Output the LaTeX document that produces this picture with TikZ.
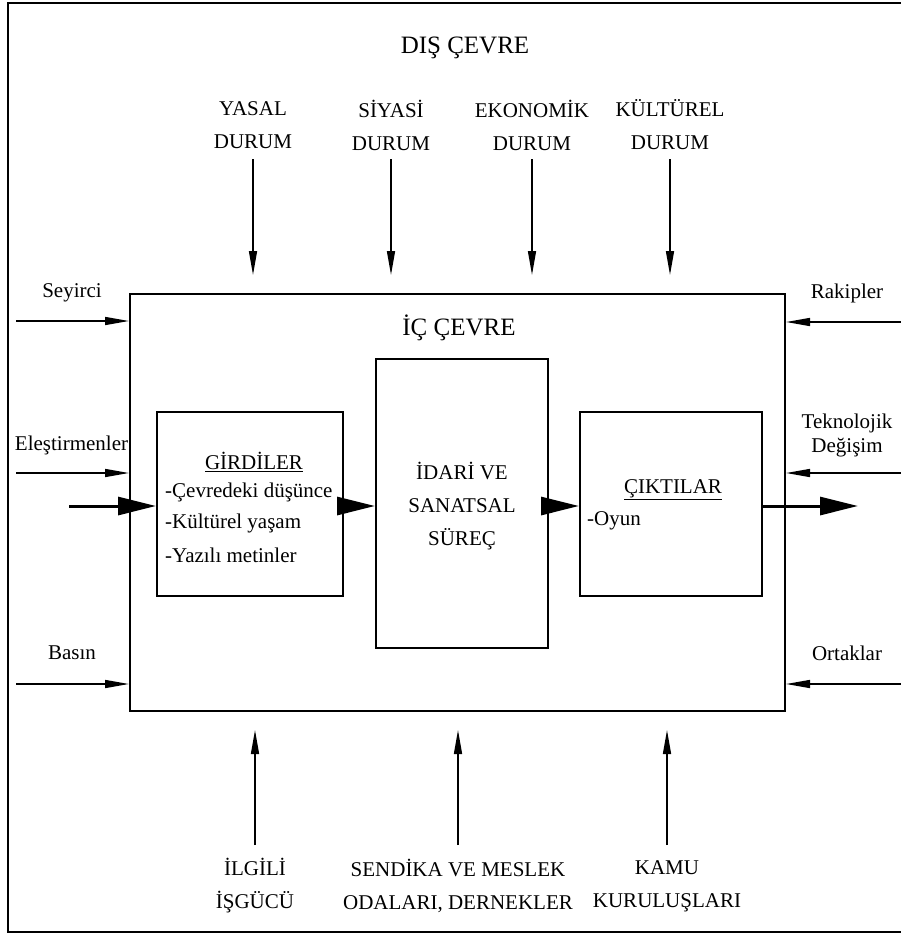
\documentclass[tikz,border=0pt]{standalone}
\usepackage{fontspec}
\setmainfont{Liberation Serif}
\usetikzlibrary{arrows.meta}
\begin{document}
\begin{tikzpicture}[x=1pt,y=-1pt,
  lbl/.style={font=\fontsize{21}{33}\selectfont, align=center, inner sep=0pt},
  slbl/.style={font=\fontsize{21}{24}\selectfont, align=center, inner sep=0pt},
  ttl/.style={font=\fontsize{25}{30}\selectfont, inner sep=0pt},
  box/.style={draw, line width=2pt, inner sep=0pt},
  thin/.style={line width=1.5pt, -{Triangle[length=24pt,width=8pt]}},
  thick/.style={line width=3pt, -{Triangle[length=38pt,width=18pt]}},
  frame/.style={line width=1.5pt}]
\useasboundingbox (0,0) rectangle (901,935);
% outer frame
\draw[frame] (901,3) -- (8,3) -- (8,932) -- (901,932);
% titles
\node[ttl] (dis) at (465,48) {DIŞ ÇEVRE};
% top labels
\node[lbl] (yasal) at (253,125) {YASAL\\DURUM};
\node[lbl] (siyasi) at (391,125) {SİYASİ\\DURUM};
\node[lbl] (ekon) at (532,125) {EKONOMİK\\DURUM};
\node[lbl] (kult) at (670,125) {KÜLTÜREL\\DURUM};
% main box
\node[box, minimum width=655pt, minimum height=417pt] (main) at (457.5,502.5) {};
\node[ttl] (ic) at (459,328) {İÇ ÇEVRE};
% inner boxes
\node[box, minimum width=186pt, minimum height=184pt] (gir) at (250,504) {};
\node[box, minimum width=172pt, minimum height=289pt] (mid) at (462,503.5) {};
\node[box, minimum width=182pt, minimum height=184pt] (cik) at (671,504) {};
% inner texts
\node[lbl] (girt) at (254,462) {\underline{GİRDİLER}};
\node[lbl, anchor=west] (g1) at (165,492) {-Çevredeki düşünce};
\node[lbl, anchor=west] (g2) at (165,523) {-Kültürel yaşam};
\node[lbl, anchor=west] (g3) at (165,555) {-Yazılı metinler};
\node[lbl] (midt) at (462,506) {İDARİ VE\\SANATSAL\\SÜREÇ};
\node[lbl] (cikt) at (673,490) {\underline{ÇIKTILAR}};
\node[lbl, anchor=west] (c1) at (587,521) {-Oyun};
% side labels
\node[slbl] (sey) at (72,293) {Seyirci};
\node[slbl] (ele) at (71.5,445) {Eleştirmenler};
\node[slbl] (bas) at (72,653) {Basın};
\node[slbl] (rak) at (847,293) {Rakipler};
\node[slbl] (tek) at (847,435) {Teknolojik\\Değişim};
\node[slbl] (ort) at (847,653) {Ortaklar};
% bottom labels
\node[lbl] (ilg) at (255,886) {İLGİLİ\\İŞGÜCÜ};
\node[lbl] (sen) at (458,886) {SENDİKA VE MESLEK\\ODALARI, DERNEKLER};
\node[lbl] (kamu) at (667,886) {KAMU\\KURULUŞLARI};
% coordinates for free ends
\coordinate (ty) at (0,159);
\coordinate (te) at (0,275);
\coordinate (by) at (0,845);
\coordinate (be) at (0,730);
\coordinate (lx) at (16,0);
\coordinate (rx) at (901,0);
\coordinate (in) at (69,506);
\coordinate (out) at (858,506);
% top arrows
\foreach \n in {yasal,siyasi,ekon,kult}
  \draw[thin] (\n |- ty) -- (\n |- te);
% bottom arrows
\foreach \n in {ilg,sen,kamu}
  \draw[thin] (\n |- by) -- (\n |- be);
% left arrows
\coordinate (l1) at (16,321);
\coordinate (l2) at (16,473);
\coordinate (l3) at (16,684);
\coordinate (r1) at (901,322);
\coordinate (r2) at (901,473);
\coordinate (r3) at (901,684);
\draw[thin] (l1) -- (main.west |- l1);
\draw[thin] (l2) -- (main.west |- l2);
\draw[thin] (l3) -- (main.west |- l3);
\draw[thin] (r1) -- (main.east |- r1);
\draw[thin] (r2) -- (main.east |- r2);
\draw[thin] (r3) -- (main.east |- r3);
% main flow
\draw[thick] (in) -- (gir.west |- in);
\draw[thick] (gir.east |- in) -- (mid.west |- in);
\draw[thick] (mid.east |- in) -- (cik.west |- in);
\draw[thick] (cik.east |- in) -- (out);
\end{tikzpicture}
\end{document}
